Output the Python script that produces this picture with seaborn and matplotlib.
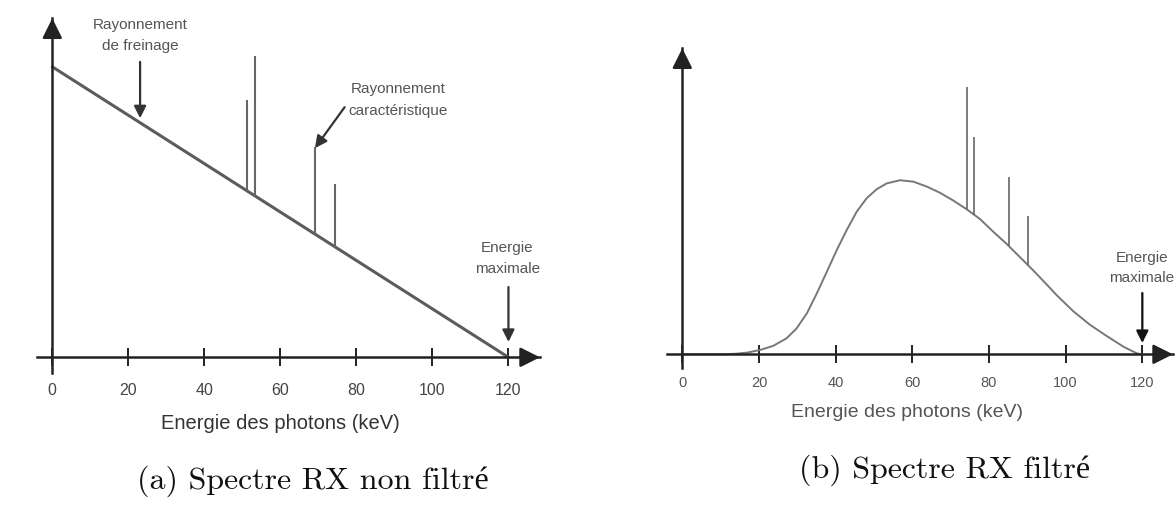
import numpy as np
import pandas as pd
import matplotlib
matplotlib.use("Agg")
import matplotlib.pyplot as plt
import seaborn as sns

# ---------------- data ----------------
# (a) unfiltered spectrum: straight bremsstrahlung line + characteristic lines
energy_a = [0, 120]
fluence_a = [100, 0]
lines_a_kev = [51.1, 53.2, 69.1, 74.4]
lines_a_base = [57.4, 55.7, 42.4, 38.0]
lines_a_top = [88.5, 103.7, 72.5, 59.6]

# (b) filtered spectrum
energy_b = [0, 10, 14, 17, 20.3, 23.7, 27.2, 29.8, 32.5, 35.1, 37.7, 40.3,
            42.9, 45.5, 48.1, 50.7, 53.3, 56.8, 60.3, 63.8, 67.2, 70.7, 74.2,
            77.7, 81.1, 84.6, 88.1, 91.6, 94.5, 97.7, 102.0, 106.4, 110.7,
            115.1, 118.6, 120]
fluence_b = [0, 0, 0.2, 0.6, 1.5, 2.9, 5.5, 8.9, 14.1, 21.0, 28.4, 35.9,
             42.8, 49.1, 53.7, 56.8, 58.8, 59.9, 59.4, 57.7, 55.6, 52.9, 49.9,
             46.5, 42.2, 38.0, 33.4, 28.8, 24.8, 20.3, 14.8, 10.1, 6.3,
             2.6, 0.3, 0]
lines_b_kev = [74.2, 76.1, 85.1, 90.1]
lines_b_base = [49.9, 48.1, 37.4, 30.8]
lines_b_top = [91.9, 74.9, 61.1, 47.6]

xticks = [0, 20, 40, 60, 80, 100, 120]
xlabel = "Energie des photons (keV)"
ylabel = "Fluence"
caption_a = "(a) Spectre RX non filtré"
caption_b = "(b) Spectre RX filtré"

# ---------------- style ----------------
sns.set_theme(style="white")
plt.rcParams["font.family"] = ["Liberation Sans", "DejaVu Sans"]

W, H = 1176, 511
fig = plt.figure(figsize=(W / 100, H / 100), dpi=100)
fig.patch.set_facecolor("white")

AX_COL = "#222222"


def make_axes(rect, xlim, ylim, tick_col, tick_size, tick_pad):
    ax = fig.add_axes(rect)
    ax.set_facecolor("white")
    ax.set_xlim(*xlim)
    ax.set_ylim(*ylim)
    for s in ["top", "right"]:
        ax.spines[s].set_visible(False)
    ax.spines["left"].set_position(("data", 0))
    ax.spines["bottom"].set_position(("data", 0))
    for s in ["left", "bottom"]:
        ax.spines[s].set_color(AX_COL)
        ax.spines[s].set_linewidth(1.8)
    ax.set_xticks(xticks)
    ax.set_xticklabels([str(t) for t in xticks])
    ax.set_yticks([])
    ax.tick_params(axis="x", direction="inout", length=13, width=1.4,
                   color=AX_COL, labelcolor=tick_col, labelsize=tick_size,
                   pad=tick_pad, bottom=True)
    # arrow heads at the ends of the axes
    ax.annotate("", xy=(1, 0), xytext=(0.96, 0),
                xycoords=ax.get_yaxis_transform(),
                textcoords=ax.get_yaxis_transform(),
                arrowprops=dict(arrowstyle="-|>,head_length=0.6,head_width=0.3",
                                color=AX_COL, lw=1.8, shrinkA=0, shrinkB=0,
                                mutation_scale=20),
                annotation_clip=False)
    ax.annotate("", xy=(0, 1), xytext=(0, 0.95),
                xycoords=ax.get_xaxis_transform(),
                textcoords=ax.get_xaxis_transform(),
                arrowprops=dict(arrowstyle="-|>,head_length=0.6,head_width=0.3",
                                color=AX_COL, lw=1.8, shrinkA=0, shrinkB=0,
                                mutation_scale=20),
                annotation_clip=False)
    return ax


# ---------------- panel (a) ----------------
ax1 = make_axes([36.7 / W, (H - 373) / H, 503.3 / W, 354.7 / H],
                (-4.1, 128.3), (-5.4, 116.7), "#444444", 11.5, 12)
df_a = pd.DataFrame({"energie": energy_a, "fluence": fluence_a})
sns.lineplot(data=df_a, x="energie", y="fluence", ax=ax1, color="#5c5c5c",
             lw=2.2, estimator=None)
ax1.vlines(lines_a_kev, lines_a_base, lines_a_top, color="#666666", lw=1.5)
ax1.set_xlabel(xlabel, fontsize=14.5, color="#333333", va="center")
ax1.xaxis.set_label_coords(0.484, -0.141)
ax1.set_ylabel(ylabel, fontsize=15, color="#333333", va="center")
ax1.yaxis.set_label_coords(-0.0324, 0.479)

ann_kw = dict(ha="center", va="center", fontsize=11, color="#555555",
              linespacing=1.65)
arr_a = dict(arrowstyle="-|>,head_length=0.6,head_width=0.3", color="#333333",
             lw=1.6, shrinkA=0, shrinkB=0)
ax1.text(23.1, 110.9, "Rayonnement\nde freinage", **ann_kw)
ax1.annotate("", xy=(23.1, 82.3), xytext=(23.1, 101.7), arrowprops=arr_a)
ax1.text(91.0, 88.6, "Rayonnement\ncaractéristique", **ann_kw)
ax1.annotate("", xy=(69.1, 72.0), xytext=(76.9, 86.1), arrowprops=arr_a)
ax1.text(119.7, 34.0, "Energie\nmaximale", **ann_kw)
ax1.annotate("", xy=(120, 5.3), xytext=(120, 24.2), arrowprops=arr_a)

# ---------------- panel (b) ----------------
ax2 = make_axes([666.7 / W, (H - 368) / H, 506.3 / W, 319.7 / H],
                (-4.07, 128.0), (-4.71, 105.3), "#555555", 10.5, 9)
df_b = pd.DataFrame({"energie": energy_b, "fluence": fluence_b})
sns.lineplot(data=df_b, x="energie", y="fluence", ax=ax2, color="#777777",
             lw=1.4, estimator=None, solid_joinstyle="round")
ax2.vlines(lines_b_kev, lines_b_base, lines_b_top, color="#666666", lw=1.2)
ax2.set_xlabel(xlabel, fontsize=14, color="#555555", va="center")
ax2.xaxis.set_label_coords(0.475, -0.14)
ax2.set_ylabel(ylabel, fontsize=15, color="#444444", va="center")
ax2.yaxis.set_label_coords(-0.030, 0.484)

ax2.text(119.8, 29.6, "Energie\nmaximale", ha="center", va="center",
         fontsize=11, color="#555555", linespacing=1.55)
arr_b = dict(arrowstyle="-|>,head_length=0.6,head_width=0.3", color="#111111",
             lw=1.6, shrinkA=0, shrinkB=0)
ax2.annotate("", xy=(120, 3.9), xytext=(120, 21.1), arrowprops=arr_b)

# ---------------- captions ----------------
cap_font = ["cmr10", "Liberation Serif"]
fig.text(313 / W, (H - 481.7) / H, caption_a, ha="center", va="center",
         fontsize=23, family=cap_font, color="#111111")
fig.text(945 / W, (H - 470) / H, caption_b, ha="center", va="center",
         fontsize=23, family=cap_font, color="#111111")

fig.savefig("out.png", dpi=100, facecolor="white")
